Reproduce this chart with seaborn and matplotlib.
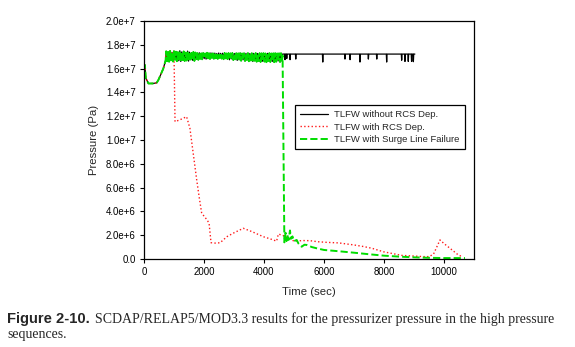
import numpy as np
import matplotlib
matplotlib.use("Agg")
import matplotlib.pyplot as plt
from matplotlib.ticker import FixedLocator, FixedFormatter
import seaborn as sns

# ---- data (pressure in MPa, time in s) ----
# common heat-up transient before the pressurizer reaches its setpoint
start_t = [0, 30, 60, 150, 300, 420, 480, 560, 644, 700, 722]
start_p = [16.00, 16.30, 15.20, 14.75, 14.75, 14.80, 15.04, 15.50, 16.00, 16.50, 16.70]

# relief-valve cycling band (shared by all sequences until the surge line breaks)
band_t0, band_t1 = 740, 4600
band_p = [
    17.45, 16.62, 17.40, 16.58, 17.48, 16.70, 17.36, 16.60, 17.46, 16.74,
    17.42, 16.62, 17.38, 16.66, 17.50, 16.60, 17.40, 16.72, 17.44, 16.64,
    17.34, 16.68, 17.47, 16.63, 17.38, 16.76, 17.32, 16.70, 17.40, 16.65,
    17.35, 16.80, 17.30, 16.74, 17.33, 16.82, 17.28, 16.78, 17.31, 16.84,
    17.27, 16.80, 17.33, 16.86, 17.29, 16.81, 17.32, 16.90, 17.28, 16.83,
    17.30, 16.87, 17.27, 16.82, 17.31, 16.90, 17.28, 16.84, 17.29, 16.79,
    17.32, 16.86, 17.27, 16.80, 17.30, 16.74, 17.28, 16.82, 17.31, 16.72,
    17.27, 16.78, 17.29, 16.69, 17.28, 16.76, 17.30, 16.66, 17.27, 16.74,
    17.29, 16.64, 17.28, 16.72, 17.30, 16.62, 17.27, 16.68, 17.29, 16.60,
    17.28, 16.66, 17.30, 16.58, 17.27, 16.64, 17.29, 16.56, 17.28, 16.62,
    17.29, 16.59, 17.27, 16.54, 17.28, 16.64, 17.29, 16.56, 17.27, 16.60,
    17.28, 16.54, 17.29, 16.58, 17.27, 16.64, 17.28, 16.56, 17.29, 16.62,
]

# TLFW without RCS depressurization: stays at setpoint, occasional valve dips
hold_level = 17.22
hold_t0, hold_t1 = 4620, 9030
dip_t = [4700, 4760, 4870, 5060, 5960, 6700, 6870, 7200, 7480, 7760,
         8090, 8590, 8700, 8810, 8920, 8980]
dip_p = [16.75, 16.85, 16.75, 16.80, 16.55, 16.80, 16.75, 16.55, 16.80, 16.80,
         16.55, 16.70, 16.60, 16.60, 16.60, 16.58]

# TLFW with RCS depressurization (after the valves open at ~1030 s)
rcs_open_t = 1030
rcs_t = [1035, 1200, 1420, 1530, 1640, 1760, 1840, 1920, 2000, 2100,
         2170, 2235, 2400, 2540, 2760, 3000, 3310, 3600, 3980, 4200,
         4420, 4480, 4600, 4760, 5000, 5300, 5533, 5800, 6089, 6500,
         7000, 7311, 7600, 7978, 8300, 8600, 9000, 9300, 9500, 9650,
         9867, 10000, 10200, 10478, 10600]
rcs_p = [11.54, 11.70, 11.96, 11.00, 8.90, 6.60, 5.20, 3.90, 3.60, 3.30,
         3.00, 1.37, 1.33, 1.37, 1.87, 2.20, 2.58, 2.30, 1.87, 1.70,
         1.50, 2.10, 2.00, 1.87, 1.50, 1.55, 1.54, 1.45, 1.40, 1.35,
         1.18, 1.05, 0.90, 0.61, 0.45, 0.30, 0.25, 0.20, 0.20, 0.40,
         1.60, 1.30, 0.90, 0.34, 0.20]

# TLFW with surge line failure
surge_t = [4620, 4680, 4720, 4750, 4780, 4820, 4867, 4900, 4950, 5000,
           5090, 5150, 5256, 5350, 5422, 5600, 5756, 6000, 6500, 7000,
           7500, 8000, 8500, 9000, 9500, 10000, 10700]
surge_p = [17.10, 1.40, 2.20, 1.50, 2.00, 1.60, 2.40, 1.70, 1.90, 1.50,
           1.60, 1.30, 1.03, 1.20, 1.18, 1.00, 0.90, 0.76, 0.65, 0.53,
           0.40, 0.28, 0.20, 0.14, 0.10, 0.08, 0.08]

labels = ["TLFW without RCS Dep.", "TLFW with RCS Dep.", "TLFW with Surge Line Failure"]
colors = ["black", "#ff1a1a", "#00dd00"]

x_ticks = [0, 2000, 4000, 6000, 8000, 10000]
y_ticks = [0, 2e6, 4e6, 6e6, 8e6, 1e7, 1.2e7, 1.4e7, 1.6e7, 1.8e7, 2e7]
y_tick_labels = ["0.0", "2.0e+6", "4.0e+6", "6.0e+6", "8.0e+6", "1.0e+7",
                 "1.2e+7", "1.4e+7", "1.6e+7", "1.8e+7", "2.0e+7"]

# ---- assemble series ----
band_t = np.linspace(band_t0, band_t1, len(band_p))

hold_t = [hold_t0]
hold_p = [hold_level]
for t, p in zip(dip_t, dip_p):
    hold_t += [t - 12, t, t + 12]
    hold_p += [hold_level, p, hold_level]
hold_t.append(hold_t1)
hold_p.append(hold_level)

base_t = list(start_t) + list(band_t)
base_p = list(start_p) + list(band_p)

black_t = np.array(base_t + hold_t)
black_p = np.array(base_p + hold_p) * 1e6

keep = [i for i, t in enumerate(base_t) if t <= rcs_open_t]
red_t = np.array([base_t[i] for i in keep] + rcs_t)
red_p = np.array([base_p[i] for i in keep] + rcs_p) * 1e6

green_t = np.array(base_t + surge_t)
green_p = np.array(base_p + surge_p) * 1e6

# ---- figure ----
sns.set_style("ticks")
plt.rcParams["font.family"] = ["Liberation Sans", "DejaVu Sans"]

fig = plt.figure(figsize=(5.75, 3.47), dpi=100)
ax = fig.add_axes([0.2504, 0.2536, 0.5739, 0.6859])

sns.lineplot(x=black_t, y=black_p, ax=ax, color=colors[0], linewidth=0.9,
             sort=False, estimator=None, label=labels[0])
sns.lineplot(x=red_t, y=red_p, ax=ax, color=colors[1], linewidth=1.0,
             linestyle=":", sort=False, estimator=None, label=labels[1])
sns.lineplot(x=green_t, y=green_p, ax=ax, color=colors[2], linewidth=1.4,
             linestyle="--", sort=False, estimator=None, label=labels[2])

ax.set_xlim(0, 11000)
ax.set_ylim(0, 2e7)
ax.xaxis.set_major_locator(FixedLocator(x_ticks))
ax.set_xticklabels([str(v) for v in x_ticks])
ax.yaxis.set_major_locator(FixedLocator(y_ticks))
ax.yaxis.set_major_formatter(FixedFormatter(y_tick_labels))
ax.tick_params(axis="both", direction="out", length=3, width=0.8,
               labelsize=6.9, pad=3, colors="black")

for s in ax.spines.values():
    s.set_visible(True)
    s.set_color("black")
    s.set_linewidth(0.9)

ax.set_xlabel("Time (sec)", fontsize=8.2, labelpad=7)
ax.set_ylabel("Pressure (Pa)", fontsize=8.2, labelpad=5)

leg = ax.legend(loc="upper right", bbox_to_anchor=(0.973, 0.647),
                fontsize=6.8, frameon=True, fancybox=False, framealpha=1,
                edgecolor="black", handlelength=2.9, handletextpad=0.7,
                labelspacing=0.35, borderpad=0.55, borderaxespad=0)
leg.get_frame().set_linewidth(0.9)

# caption
fig.text(7 / 575, 1 - 322.7 / 347, "Figure 2-10.", fontsize=10.6,
         fontweight="bold", family=["Liberation Sans", "DejaVu Sans"],
         va="baseline", ha="left")
fig.text(95 / 575, 1 - 322.7 / 347,
         "SCDAP/RELAP5/MOD3.3 results for the pressurizer pressure in the high pressure",
         fontsize=10.0, family=["Liberation Serif", "DejaVu Serif"],
         va="baseline", ha="left")
fig.text(7 / 575, 1 - 338.3 / 347, "sequences.", fontsize=10.0,
         family=["Liberation Serif", "DejaVu Serif"], va="baseline", ha="left")

fig.savefig("out.png", dpi=100)
